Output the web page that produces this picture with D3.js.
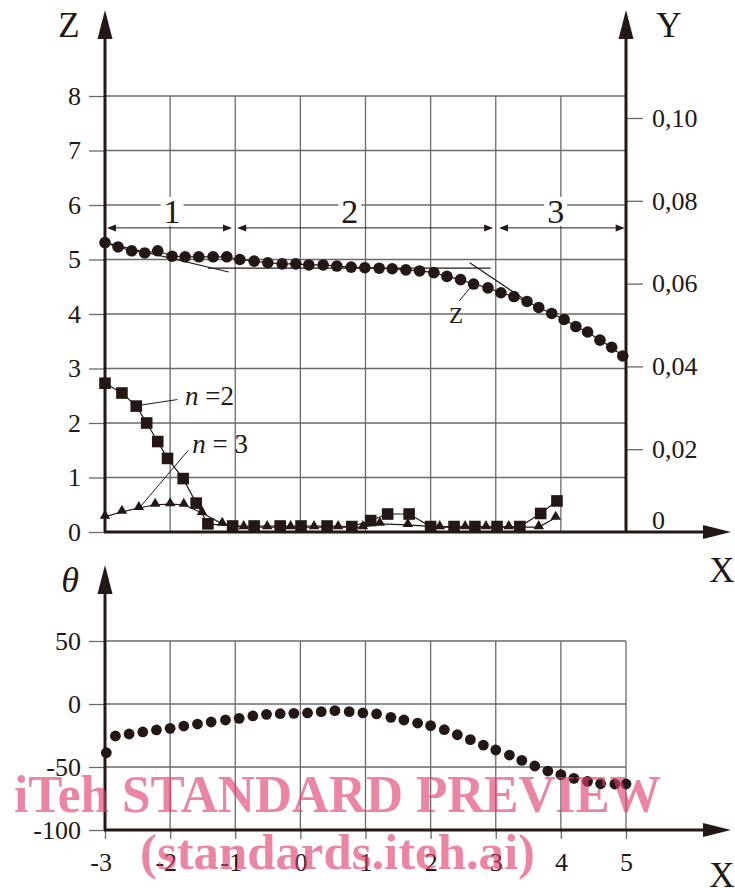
<!DOCTYPE html>
<html>
<head>
<meta charset="utf-8">
<script src="https://cdn.jsdelivr.net/npm/d3@7"></script>
<style>
  body { margin: 0; background: #fff; }
  svg text { font-family: "Liberation Serif", serif; fill: #231815; }
</style>
</head>
<body>
<svg id="chart" width="735" height="888"></svg>
<script>
// ---- data ----
var xTicks = [-3, -2, -1, 0, 1, 2, 3, 4, 5];
var zTicks = [0, 1, 2, 3, 4, 5, 6, 7, 8];
var yTicks = [0, 0.02, 0.04, 0.06, 0.08, 0.10];
var thetaTicks = [-100, -50, 0, 50];

// Z curve (circles)
var zX = [-3.00, -2.80, -2.59, -2.39, -2.19, -1.97, -1.77, -1.56, -1.34, -1.13,
          -0.93, -0.71, -0.50, -0.28, -0.07, 0.13, 0.35, 0.56, 0.78, 0.99,
          1.21, 1.41, 1.62, 1.83, 2.05, 2.25, 2.46, 2.66, 2.88, 3.08,
          3.28, 3.48, 3.66, 3.86, 4.05, 4.23, 4.41, 4.60, 4.78, 4.95];
var zVal = [5.31, 5.23, 5.16, 5.12, 5.16, 5.06, 5.05, 5.05, 5.05, 5.05,
            5.00, 4.97, 4.94, 4.92, 4.92, 4.90, 4.90, 4.88, 4.86, 4.85,
            4.84, 4.83, 4.81, 4.79, 4.76, 4.69, 4.63, 4.55, 4.48, 4.39,
            4.32, 4.23, 4.12, 4.01, 3.90, 3.77, 3.67, 3.52, 3.39, 3.23];

// n = 2 (squares)
var n2X = [-3.00, -2.74, -2.52, -2.36, -2.19, -2.04, -1.80, -1.60, -1.42, -1.04,
           -0.71, -0.31, 0.01, 0.41, 0.79, 1.08, 1.34, 1.67, 2.00, 2.36,
           2.68, 3.02, 3.37, 3.69, 3.94];
var n2Val = [2.73, 2.55, 2.31, 2.00, 1.66, 1.35, 0.98, 0.53, 0.15, 0.11,
             0.11, 0.11, 0.11, 0.11, 0.10, 0.21, 0.33, 0.33, 0.10, 0.10,
             0.10, 0.10, 0.10, 0.34, 0.57];

// n = 3 (triangles)
var n3X = [-3.00, -2.74, -2.48, -2.23, -2.00, -1.79, -1.51, -1.20, -0.87, -0.51,
           -0.15, 0.21, 0.58, 0.96, 1.22, 1.65, 2.14, 2.53, 2.85, 3.20,
           3.66, 3.92];
var n3Val = [0.28, 0.37, 0.44, 0.50, 0.51, 0.50, 0.35, 0.15, 0.09, 0.09,
             0.09, 0.09, 0.09, 0.09, 0.15, 0.13, 0.09, 0.09, 0.09, 0.09,
             0.09, 0.26];

// theta (bottom chart)
var thX = [-2.98, -2.84, -2.63, -2.42, -2.21, -2.00, -1.79, -1.58, -1.37, -1.15,
           -0.94, -0.73, -0.52, -0.31, -0.10, 0.11, 0.32, 0.53, 0.75, 0.96,
           1.17, 1.39, 1.59, 1.80, 2.00, 2.21, 2.41, 2.61, 2.81, 3.00,
           3.21, 3.40, 3.60, 3.80, 4.00, 4.20, 4.41, 4.61, 4.83, 5.00];
var thVal = [-38.7, -25.4, -23.8, -22.2, -20.6, -19.3, -17.5, -15.9, -14.3, -12.7,
             -11.4, -9.5, -8.2, -7.7, -7.4, -7.1, -6.1, -5.3, -6.1, -7.1,
             -7.9, -10.6, -12.7, -15.1, -17.2, -20.4, -24.4, -28.3, -32.6, -36.5,
             -40.5, -44.7, -49.2, -53.2, -56.1, -59.0, -61.4, -63.3, -63.5, -63.5];

// zones 1/2/3
var zoneLabels = ["1", "2", "3"];
var zoneStart = [-2.97, -0.97, 3.05];
var zoneEnd = [-1.05, 2.96, 4.98];
var zoneLabelX = [-1.97, 0.76, 3.92];
var zoneZ = 5.58;

// tangent lines on Z curve
var tangents = [[-3.00, 5.31, -1.10, 4.77], [-1.42, 4.84, 2.92, 4.84], [2.60, 4.94, 3.50, 4.22]];

var ink = "#231815";
var gridColor = "#6a6a6a";
var tickFont = 26;

// ---- scales ----
var svg = d3.select("#chart");
var x = d3.scaleLinear().domain([-3, 5]).range([105, 626]);
var z = d3.scaleLinear().domain([0, 8]).range([532, 96]);
var yR = d3.scaleLinear().domain([0, 0.10]).range([532, 118]);
var th = d3.scaleLinear().domain([-100, 50]).range([830, 641]);

function arrow(g, x1, y1, x2, y2, len, half, w) {
  var a = Math.atan2(y2 - y1, x2 - x1);
  var bx = x2 - len * Math.cos(a), by = y2 - len * Math.sin(a);
  g.append("line").attr("x1", x1).attr("y1", y1).attr("x2", bx + Math.cos(a)).attr("y2", by + Math.sin(a))
    .attr("stroke", ink).attr("stroke-width", w);
  var px = -Math.sin(a) * half, py = Math.cos(a) * half;
  g.append("path")
    .attr("d", "M" + x2 + "," + y2 + "L" + (bx + px) + "," + (by + py) + "L" + (bx - px) + "," + (by - py) + "Z")
    .attr("fill", ink);
}

// ---- top chart ----
var topG = svg.append("g");

// grid
topG.selectAll(".hg").data(zTicks.slice(1)).enter().append("line")
  .attr("x1", x(-3)).attr("x2", x(5)).attr("y1", function(d){ return z(d); }).attr("y2", function(d){ return z(d); })
  .attr("stroke", gridColor).attr("stroke-width", 1.3);
topG.selectAll(".vg").data(xTicks.slice(1, -1)).enter().append("line")
  .attr("x1", function(d){ return x(d); }).attr("x2", function(d){ return x(d); })
  .attr("y1", z(8)).attr("y2", z(0))
  .attr("stroke", gridColor).attr("stroke-width", 1.3);

// left axis ticks
var zAxis = topG.append("g").attr("transform", "translate(" + x(-3) + ",0)")
  .call(d3.axisLeft(z).tickValues(zTicks).tickSize(16).tickPadding(8));
zAxis.select(".domain").remove();
zAxis.selectAll("line").attr("stroke", gridColor).attr("stroke-width", 1.3);
zAxis.selectAll("text").attr("font-size", tickFont).attr("fill", ink).attr("font-family", "Liberation Serif");

// right axis ticks
var yAxis = topG.append("g").attr("transform", "translate(" + x(5) + ",0)")
  .call(d3.axisRight(yR).tickValues(yTicks).tickSize(17).tickPadding(9)
    .tickFormat(function(d){ return d === 0 ? "0" : d3.format(".2f")(d).replace(".", ","); }));
yAxis.select(".domain").remove();
yAxis.selectAll("line").attr("stroke", gridColor).attr("stroke-width", 1.3);
yAxis.selectAll("text").attr("font-size", tickFont).attr("fill", ink).attr("font-family", "Liberation Serif");
yAxis.selectAll(".tick").filter(function(d){ return d === 0; })
  .each(function(){
    d3.select(this).select("line").remove();
    d3.select(this).select("text").attr("y", -12);
  });

// zone brackets
zoneLabels.forEach(function(lab, i) {
  var yb = z(zoneZ);
  var g = topG.append("g");
  var x1 = x(zoneStart[i]), x2 = x(zoneEnd[i]);
  g.append("line").attr("x1", x1 + 6).attr("x2", x2 - 6).attr("y1", yb).attr("y2", yb)
    .attr("stroke", ink).attr("stroke-width", 1);
  g.append("path").attr("d", "M" + x1 + "," + yb + "l9,-3.5l0,7Z").attr("fill", ink);
  g.append("path").attr("d", "M" + x2 + "," + yb + "l-9,-3.5l0,7Z").attr("fill", ink);
  var t = g.append("text").attr("x", x(zoneLabelX[i])).attr("y", yb - 5)
    .attr("text-anchor", "middle").attr("font-size", 34).text(lab);
  var bb = t.node().getBBox();
  g.insert("rect", "text").attr("x", bb.x - 3).attr("y", bb.y + 4).attr("width", bb.width + 6).attr("height", bb.height - 8)
    .attr("fill", "#fff");
});

// tangents
topG.selectAll(".tan").data(tangents).enter().append("line")
  .attr("x1", function(d){ return x(d[0]); }).attr("y1", function(d){ return z(d[1]); })
  .attr("x2", function(d){ return x(d[2]); }).attr("y2", function(d){ return z(d[3]); })
  .attr("stroke", ink).attr("stroke-width", 1.2);

// series lines
var lineGen = d3.line().x(function(d){ return x(d[0]); }).y(function(d){ return z(d[1]); });
var zPts = d3.zip(zX, zVal), n2Pts = d3.zip(n2X, n2Val), n3Pts = d3.zip(n3X, n3Val);
[zPts, n3Pts, n2Pts].forEach(function(p) {
  topG.append("path").attr("d", lineGen(p)).attr("fill", "none").attr("stroke", ink).attr("stroke-width", 1.2);
});

topG.selectAll(".zdot").data(zPts).enter().append("circle")
  .attr("cx", function(d){ return x(d[0]); }).attr("cy", function(d){ return z(d[1]); })
  .attr("r", 5.8).attr("fill", ink);
topG.selectAll(".tri").data(n3Pts).enter().append("path")
  .attr("d", d3.symbol().type(d3.symbolTriangle).size(48))
  .attr("transform", function(d){ return "translate(" + x(d[0]) + "," + (z(d[1]) - 1) + ")"; })
  .attr("fill", ink);
topG.selectAll(".sq").data(n2Pts).enter().append("rect")
  .attr("x", function(d){ return x(d[0]) - 5.8; }).attr("y", function(d){ return z(d[1]) - 5.8; })
  .attr("width", 11.6).attr("height", 11.6).attr("fill", ink);

// annotations
function leader(x1, z1, x2, z2) {
  topG.append("line").attr("x1", x(x1)).attr("y1", z(z1)).attr("x2", x(x2)).attr("y2", z(z2))
    .attr("stroke", ink).attr("stroke-width", 1);
}
leader(-2.44, 2.33, -1.89, 2.43);
leader(-2.46, 0.46, -1.72, 1.50);
leader(2.44, 4.24, 2.60, 4.47);

var t2 = topG.append("text").attr("x", x(-1.77)).attr("y", z(2.51)).attr("dy", "0.35em").attr("font-size", 27);
t2.append("tspan").attr("font-style", "italic").text("n");
t2.append("tspan").text(" =2");
var t3 = topG.append("text").attr("x", x(-1.66)).attr("y", z(1.63)).attr("dy", "0.35em").attr("font-size", 27);
t3.append("tspan").attr("font-style", "italic").text("n");
t3.append("tspan").text(" = 3");
topG.append("text").attr("x", x(2.39)).attr("y", z(3.98)).attr("dy", "0.35em")
  .attr("text-anchor", "middle").attr("font-size", 23).text("Z");

// axes
arrow(topG, x(-3), z(0), x(-3), 10, 29, 7.5, 3);
arrow(topG, x(5), z(0), x(5), 10, 29, 7.5, 3);
arrow(topG, x(-3) - 1, z(0), 731, z(0), 28, 7, 3);
topG.append("text").attr("x", 69).attr("y", 37).attr("text-anchor", "middle").attr("font-size", 35).text("Z");
topG.append("text").attr("x", 669).attr("y", 37).attr("text-anchor", "middle").attr("font-size", 35).text("Y");
topG.append("text").attr("x", 722).attr("y", 582).attr("text-anchor", "middle").attr("font-size", 35).text("X");

// ---- bottom chart ----
var bot = svg.append("g");
bot.selectAll(".hg").data(thetaTicks.slice(1)).enter().append("line")
  .attr("x1", x(-3)).attr("x2", x(5)).attr("y1", function(d){ return th(d); }).attr("y2", function(d){ return th(d); })
  .attr("stroke", gridColor).attr("stroke-width", 1.3);
bot.selectAll(".vg").data(xTicks.slice(1)).enter().append("line")
  .attr("x1", function(d){ return x(d); }).attr("x2", function(d){ return x(d); })
  .attr("y1", th(50)).attr("y2", th(-100))
  .attr("stroke", gridColor).attr("stroke-width", 1.3);

var thAxis = bot.append("g").attr("transform", "translate(" + x(-3) + ",0)")
  .call(d3.axisLeft(th).tickValues(thetaTicks).tickSize(16).tickPadding(8)
    .tickFormat(function(d){ return String(d); }));
thAxis.select(".domain").remove();
thAxis.selectAll("line").attr("stroke", gridColor).attr("stroke-width", 1.3);
thAxis.selectAll("text").attr("font-size", tickFont).attr("fill", ink).attr("font-family", "Liberation Serif");

var xAxis = bot.append("g").attr("transform", "translate(0," + th(-100) + ")")
  .call(d3.axisBottom(x).tickValues(xTicks).tickSize(9).tickPadding(8)
    .tickFormat(function(d){ return String(d); }));
xAxis.select(".domain").remove();
xAxis.selectAll("line").attr("stroke", gridColor).attr("stroke-width", 1.3);
xAxis.selectAll("text").attr("font-size", tickFont).attr("fill", ink).attr("font-family", "Liberation Serif")
  .attr("text-anchor", "end").attr("x", 6.5).attr("y", 32).attr("dy", "0.35em");

var thPts = d3.zip(thX, thVal);
bot.selectAll(".thdot").data(thPts).enter().append("circle")
  .attr("cx", function(d){ return x(d[0]); }).attr("cy", function(d){ return th(d[1]); })
  .attr("r", 5.4).attr("fill", ink);

arrow(bot, x(-3), th(-100), x(-3), 565, 29, 7.5, 3);
arrow(bot, x(-3) - 1, th(-100), 731, th(-100), 28, 7, 3);
bot.append("text").attr("x", 70).attr("y", 592).attr("text-anchor", "middle")
  .attr("font-size", 36).attr("font-style", "italic").text("θ");
bot.append("text").attr("x", 722).attr("y", 887).attr("text-anchor", "middle").attr("font-size", 35).text("X");

// ---- watermark ----
var wm = svg.append("g").attr("opacity", 0.62);
wm.append("text").attr("x", 14).attr("y", 812).attr("font-size", 52).attr("font-weight", "bold")
  .attr("textLength", 647).attr("lengthAdjust", "spacingAndGlyphs")
  .style("fill", "rgb(225,60,110)").text("iTeh STANDARD PREVIEW");
wm.append("text").attr("x", 140).attr("y", 869).attr("font-size", 50).attr("font-weight", "bold")
  .attr("textLength", 395).attr("lengthAdjust", "spacingAndGlyphs")
  .style("fill", "rgb(225,60,110)").text("(standards.iteh.ai)");
</script>
</body>
</html>
